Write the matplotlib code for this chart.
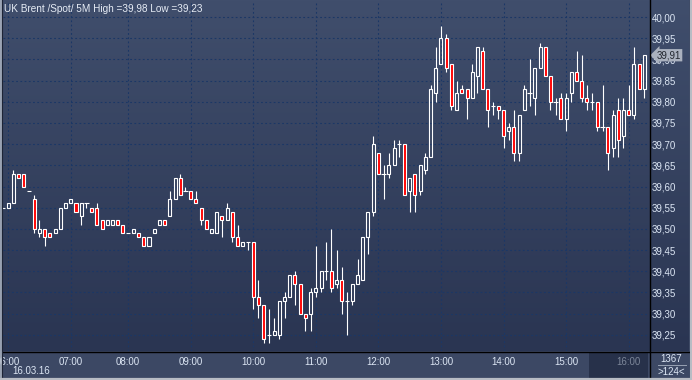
import numpy as np
import matplotlib
matplotlib.use("Agg")
import matplotlib.pyplot as plt
from matplotlib.patches import Rectangle
from matplotlib.lines import Line2D
import matplotlib.transforms as mtransforms

# 5 minute bars, UK Brent spot, 16.03.16
opens = [39.55, 39.55, 39.56, 39.63, 39.63, 39.59, 39.57, 39.49, 39.50, 39.49,
         39.49, 39.50, 39.55, 39.56, 39.56, 39.53, 39.56, 39.55, 39.55, 39.52,
         39.51, 39.51, 39.52, 39.51, 39.49, 39.49, 39.49, 39.48, 39.46, 39.49,
         39.51, 39.52, 39.53, 39.57, 39.62, 39.59, 39.59, 39.57, 39.55, 39.52,
         39.49, 39.49, 39.53, 39.52, 39.54, 39.48, 39.46, 39.47, 39.47, 39.34,
         39.32, 39.25, 39.25, 39.25, 39.33, 39.34, 39.39, 39.37, 39.30, 39.30,
         39.35, 39.36, 39.40, 39.40, 39.37, 39.38, 39.33, 39.33, 39.37, 39.38,
         39.48, 39.54, 39.68, 39.63, 39.63, 39.65, 39.70, 39.70, 39.59, 39.63,
         39.59, 39.64, 39.67, 39.82, 39.89, 39.95, 39.89, 39.78, 39.83, 39.83,
         39.81, 39.86, 39.92, 39.83, 39.79, 39.79, 39.78, 39.73, 39.74, 39.68,
         39.78, 39.82, 39.81, 39.88, 39.93, 39.86, 39.80, 39.81, 39.76, 39.82,
         39.87, 39.85, 39.81, 39.80, 39.80, 39.74, 39.74, 39.69, 39.78, 39.72,
         39.78, 39.77, 39.89, 39.83]
highs = [39.55, 39.56, 39.64, 39.63, 39.63, 39.59, 39.58, 39.52, 39.50, 39.49,
         39.50, 39.55, 39.56, 39.57, 39.56, 39.56, 39.56, 39.55, 39.56, 39.52,
         39.52, 39.52, 39.52, 39.51, 39.49, 39.50, 39.49, 39.48, 39.48, 39.50,
         39.52, 39.52, 39.59, 39.62, 39.63, 39.60, 39.59, 39.59, 39.55, 39.52,
         39.50, 39.54, 39.53, 39.56, 39.54, 39.51, 39.47, 39.47, 39.47, 39.38,
         39.32, 39.31, 39.29, 39.33, 39.35, 39.39, 39.40, 39.37, 39.30, 39.36,
         39.46, 39.40, 39.47, 39.50, 39.45, 39.41, 39.35, 39.37, 39.43, 39.48,
         39.54, 39.72, 39.68, 39.65, 39.68, 39.71, 39.71, 39.70, 39.62, 39.63,
         39.65, 39.68, 39.84, 39.93, 39.98, 39.96, 39.89, 39.85, 39.84, 39.83,
         39.89, 39.93, 39.93, 39.83, 39.80, 39.79, 39.78, 39.75, 39.78, 39.77,
         39.84, 39.90, 39.88, 39.94, 39.93, 39.86, 39.81, 39.82, 39.82, 39.87,
         39.92, 39.91, 39.84, 39.82, 39.80, 39.84, 39.74, 39.78, 39.81, 39.81,
         39.84, 39.93, 39.89, 39.91]
lows = [39.55, 39.55, 39.56, 39.62, 39.60, 39.59, 39.49, 39.48, 39.46, 39.48,
        39.49, 39.50, 39.55, 39.56, 39.54, 39.51, 39.55, 39.54, 39.51, 39.50,
        39.51, 39.51, 39.51, 39.49, 39.49, 39.49, 39.48, 39.46, 39.46, 39.49,
        39.51, 39.51, 39.53, 39.57, 39.58, 39.59, 39.57, 39.56, 39.51, 39.50,
        39.49, 39.49, 39.48, 39.52, 39.47, 39.46, 39.46, 39.45, 39.31, 39.29,
        39.23, 39.23, 39.25, 39.24, 39.29, 39.34, 39.32, 39.30, 39.26, 39.26,
        39.34, 39.35, 39.38, 39.35, 39.36, 39.30, 39.25, 39.32, 39.37, 39.38,
        39.44, 39.53, 39.63, 39.57, 39.62, 39.65, 39.67, 39.58, 39.54, 39.54,
        39.58, 39.63, 39.67, 39.80, 39.89, 39.87, 39.78, 39.78, 39.82, 39.76,
        39.81, 39.82, 39.83, 39.74, 39.77, 39.76, 39.69, 39.71, 39.66, 39.66,
        39.78, 39.79, 39.77, 39.88, 39.86, 39.78, 39.77, 39.76, 39.73, 39.80,
        39.85, 39.80, 39.78, 39.78, 39.73, 39.73, 39.64, 39.67, 39.67, 39.69,
        39.77, 39.76, 39.83, 39.81]
closes = [39.55, 39.56, 39.63, 39.62, 39.60, 39.59, 39.50, 39.50, 39.48, 39.48,
          39.50, 39.55, 39.56, 39.57, 39.54, 39.56, 39.56, 39.54, 39.51, 39.50,
          39.52, 39.52, 39.51, 39.49, 39.49, 39.50, 39.48, 39.46, 39.48, 39.50,
          39.52, 39.51, 39.57, 39.62, 39.58, 39.59, 39.57, 39.56, 39.52, 39.50,
          39.50, 39.54, 39.52, 39.55, 39.48, 39.46, 39.47, 39.47, 39.34, 39.32,
          39.24, 39.25, 39.26, 39.33, 39.34, 39.39, 39.37, 39.30, 39.29, 39.35,
          39.36, 39.40, 39.40, 39.36, 39.38, 39.33, 39.33, 39.37, 39.39, 39.48,
          39.54, 39.70, 39.63, 39.63, 39.65, 39.69, 39.70, 39.58, 39.62, 39.58,
          39.65, 39.67, 39.83, 39.88, 39.95, 39.88, 39.79, 39.82, 39.82, 39.81,
          39.87, 39.93, 39.83, 39.78, 39.79, 39.78, 39.72, 39.74, 39.68, 39.77,
          39.83, 39.82, 39.88, 39.93, 39.86, 39.80, 39.80, 39.76, 39.81, 39.87,
          39.85, 39.81, 39.80, 39.80, 39.74, 39.74, 39.68, 39.77, 39.71, 39.78,
          39.77, 39.89, 39.83, 39.91]

hour_bars = [1, 13, 24, 36, 48, 60, 72, 84, 96, 108, 120]
hour_labels = ["06:00", "07:00", "08:00", "09:00", "10:00", "11:00",
               "12:00", "13:00", "14:00", "15:00", "16:00"]
price_ticks = [39.25, 39.30, 39.35, 39.40, 39.45, 39.50, 39.55, 39.60,
               39.65, 39.70, 39.75, 39.80, 39.85, 39.90, 39.95, 40.00]
last_price = 39.91

W, H = 692, 380
font = "Liberation Sans"
txt = "#dce6f4"


def fx(px):
    return px / W


def fy(py):
    return 1 - py / H


fig = plt.figure(figsize=(W / 100, H / 100), dpi=100)
fig.patch.set_facecolor("#3c4864")

# gradient background behind the chart and price scale
bg = fig.add_axes([0, fy(351), fx(689), 351 / H], zorder=-3)
grad = np.linspace(0, 1, 256).reshape(-1, 1)
cmap = matplotlib.colors.LinearSegmentedColormap.from_list("bg", ["#404e6c", "#2a3552"])
bg.imshow(grad, aspect="auto", cmap=cmap, extent=[0, 1, 0, 1], origin="upper")
bg.axis("off")

ax = fig.add_axes([fx(3), fy(351), fx(646), 349 / H], zorder=0)
ax.set_facecolor("none")

x = np.arange(len(opens))
o = np.array(opens)
h = np.array(highs)
l = np.array(lows)
c = np.array(closes)
top = np.maximum(o, c)
bot = np.minimum(o, c)

lw = 0.8
ax.vlines(x, top, h, color="white", lw=lw, zorder=3)
ax.vlines(x, l, bot, color="white", lw=lw, zorder=3)

up = c > o
dn = c < o
dj = c == o
ax.bar(x[up], (c - o)[up], bottom=o[up], width=0.58, facecolor="none",
       edgecolor="white", lw=lw, zorder=4)
ax.bar(x[dn], (o - c)[dn], bottom=c[dn], width=0.58, facecolor="#ff0000",
       edgecolor="white", lw=lw, zorder=4)
ax.hlines(o[dj], x[dj] - 0.42, x[dj] + 0.42, color="white", lw=lw, zorder=4)

ax.set_xlim(0, 123.9)
ax.set_ylim(39.2116, 40.0357)

ax.set_xticks(hour_bars)
ax.set_xticklabels(hour_labels)
ax.set_yticks(price_ticks)
ax.set_yticklabels([f"{p:.2f}".replace(".", ",") for p in price_ticks])
ax.yaxis.tick_right()
ax.tick_params(axis="y", length=0, pad=2.2, labelsize=7, labelcolor=txt)
ax.tick_params(axis="x", length=0, pad=4.5, labelsize=7, labelcolor=txt)
for lab in ax.get_xticklabels() + ax.get_yticklabels():
    lab.set_fontfamily(font)
ax.get_xticklabels()[-1].set_color("#7c8699")

ax.grid(True, color="#1b3766", lw=0.8, linestyle=(0, (1.6, 2.2)))
ax.set_axisbelow(True)
for s in ax.spines.values():
    s.set_visible(False)

# current price marker on the scale
trans = mtransforms.blended_transform_factory(ax.transAxes, ax.transData)
ax.text(1.012, last_price, f"{last_price:.2f}".replace(".", ","), transform=trans,
        ha="left", va="center", fontsize=7, family=font, color="#22262e",
        clip_on=False, zorder=6,
        bbox=dict(boxstyle="larrow,pad=0.12", fc="#aab1be", ec="none"))

# darker block under the last hour
fig.patches.append(Rectangle((fx(589), fy(378)), fx(59), 26 / H,
                             transform=fig.transFigure, fc="#27314a", ec="none",
                             zorder=-1))
fig.lines.append(Line2D([fx(589), fx(589)], [fy(352), fy(378)],
                        transform=fig.transFigure, color="#4a5670", lw=0.8, zorder=-1))

# frame lines
k = dict(transform=fig.transFigure, zorder=5)
fig.lines.append(Line2D([fx(649.5), fx(649.5)], [fy(0), fy(378)], color="black", lw=1, **k))
fig.lines.append(Line2D([fx(2), fx(689)], [fy(351.5), fy(351.5)], color="black", lw=1, **k))
fig.lines.append(Line2D([fx(0.5), fx(0.5)], [0, 1], color="#aeb6c3", lw=1.2, **k))
fig.lines.append(Line2D([fx(2), fx(2)], [fy(0), fy(378)], color="#1d2436", lw=0.8, **k))
fig.lines.append(Line2D([fx(690.5), fx(690.5)], [0, 1], color="#b8bcc4", lw=2.2, **k))
fig.lines.append(Line2D([0, 1], [fy(379), fy(379)], color="#b8bcc4", lw=1.6, **k))

fig.text(fx(4), fy(8.5), "UK Brent /Spot/ 5M High =39,98 Low =39,23",
         ha="left", va="center", fontsize=7.2, family=font, color="#e6ecf5")
fig.text(fx(12), fy(370.5), "16.03.16", ha="left", va="center",
         fontsize=7, family=font, color=txt)
fig.text(fx(671), fy(358.5), "1367", ha="center", va="center",
         fontsize=7, family=font, color=txt)
fig.lines.append(Line2D([fx(658), fx(686)], [fy(364.7), fy(364.7)],
                        transform=fig.transFigure, color="#98a2b4", lw=0.7, zorder=5))
fig.text(fx(671), fy(372), ">124<", ha="center", va="center",
         fontsize=7, family=font, color=txt)

fig.savefig("out.png", dpi=100, facecolor=fig.get_facecolor())
